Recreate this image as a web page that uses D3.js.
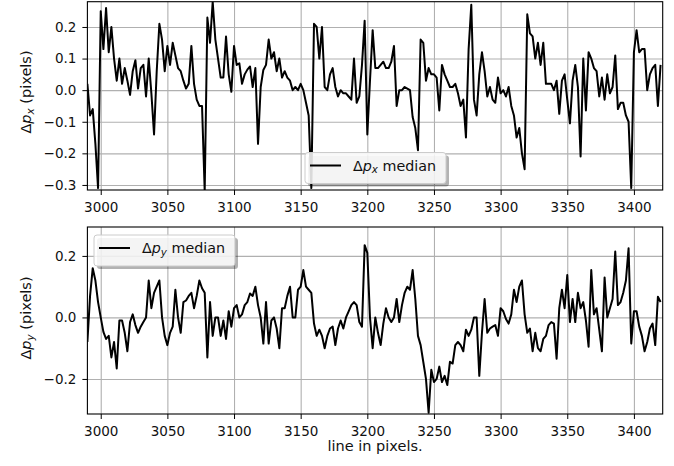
<!DOCTYPE html>
<html>
<head>
<meta charset="utf-8">
<script src="https://cdn.jsdelivr.net/npm/d3@7"></script>
<style>
  body { margin: 0; background: #fff; }
  svg { display: block; font-family: "DejaVu Sans", sans-serif; }
  .tick text { font-size: 13.5px; fill: #111; }
</style>
</head>
<body>
<div id="chart"></div>
<script>
// median offsets per detector line, every 2 lines from 2990
const lineStart = 2990;
const lineStep = 2;

const dpx = [
  0.02, -0.08, -0.06, -0.17, -0.31, 0.25, 0.13, 0.26, 0.12, 0.2,
  0.1, 0.03, 0.1, 0.02, 0.07, 0.03, -0.015, 0.06, 0.095, 0.005,
  0.07, 0.08, -0.02, 0.1, -0.01, -0.14, 0.06, 0.21, 0.16, 0.06,
  0.14, 0.08, 0.15, 0.11, 0.07, 0.06, 0.03, 0.005, 0.02, 0.14,
  0.02, -0.03, -0.05, -0.05, -0.32, 0.23, 0.15, 0.28, 0.16, 0.1,
  0.04, 0.04, 0.17, 0.05, -0.005, 0.14, 0.08, 0.085, 0.02, 0.05,
  0.065, 0.075, 0.01, 0.07, -0.17, 0.01, 0.064, 0.08, 0.16, 0.1,
  0.12, 0.06, 0.1, 0.04, 0.06, 0.04, 0.03, 0.0, 0.01, 0.0,
  0.02, 0.0, -0.04, -0.08, -0.31, 0.21, 0.2, 0.1, 0.2, 0.01,
  0.0, 0.05, 0.07, 0.01, -0.02, 0.0, -0.01, -0.01, -0.02, -0.03,
  0.1, -0.04, -0.02, 0.08, 0.22, -0.14, 0.03, 0.19, 0.07, 0.07,
  0.08, 0.09, 0.07, 0.07, 0.09, 0.14, -0.05, 0.0, 0.0, 0.01,
  0.005, 0.0, -0.085, -0.12, -0.19, 0.16, 0.15, 0.03, 0.07, 0.05,
  0.05, 0.04, -0.064, 0.08, 0.05, 0.03, 0.01, 0.01, 0.02, -0.01,
  -0.05, -0.03, -0.15, 0.13, 0.27, -0.03, -0.08, 0.05, 0.12, 0.06,
  -0.02, 0.01, -0.03, -0.04, 0.04, -0.01, 0.0, -0.02, 0.01, -0.05,
  -0.08, -0.15, -0.12, -0.2, -0.25, 0.24, 0.18, 0.17, 0.1, 0.15,
  0.08, 0.15, 0.02, 0.02, 0.02, 0.0, 0.03, -0.075, 0.03, 0.05,
  -0.03, -0.105, 0.03, 0.08, 0.01, -0.21, 0.1, -0.064, 0.12, 0.1,
  0.07, 0.06, -0.02, 0.04, -0.03, 0.05, -0.01, 0.01, 0.11, -0.06,
  -0.04, -0.04, -0.08, -0.1, -0.31, 0.12, 0.19, 0.12, 0.13, 0.13,
  0.0, 0.05, 0.07, 0.08, -0.05, 0.08
];

const dpy = [
  -0.08, 0.07, 0.16, 0.12, 0.05, 0.0, -0.047, -0.07, -0.06, -0.13,
  -0.08, -0.166, -0.01, -0.01, -0.05, -0.11, -0.015, 0.01, -0.025, -0.05,
  -0.03, -0.015, 0.0, 0.12, 0.03, 0.08, 0.1, 0.12, 0.0, -0.06,
  -0.09, -0.05, -0.03, 0.09, 0.0, -0.05, 0.05, 0.055, 0.07, 0.08,
  0.03, 0.07, 0.12, 0.095, 0.08, -0.13, 0.05, -0.06, 0.0, 0.0,
  -0.06, -0.01, -0.07, 0.02, -0.03, 0.03, 0.04, 0.0, 0.01, 0.04,
  0.05, 0.078, 0.07, 0.1, 0.04, 0.0, -0.085, 0.05, -0.085, -0.01,
  0.0, -0.036, -0.1, 0.03, 0.03, 0.07, 0.1, 0.0, 0.0, 0.09,
  0.1, 0.154, 0.1, 0.09, 0.08, -0.02, -0.06, -0.04, -0.06, -0.1,
  -0.06, -0.036, -0.03, -0.09, -0.036, -0.01, -0.036, 0.0, 0.02, 0.04,
  0.05, 0.04, -0.015, -0.03, 0.235, 0.21, 0.0, -0.1, 0.0, -0.05,
  -0.09, -0.02, 0.03, 0.0, -0.015, 0.0, 0.06, -0.015, 0.04, 0.08,
  0.1, 0.09, 0.154, 0.06, -0.06, -0.09, -0.145, -0.2, -0.31, -0.17,
  -0.21, -0.2, -0.16, -0.21, -0.19, -0.22, -0.144, -0.15, -0.09, -0.08,
  -0.09, -0.11, -0.04, -0.06, -0.04, 0.0, 0.0, -0.19, -0.05, 0.06,
  -0.05, -0.036, -0.03, -0.025, -0.06, 0.03, 0.02, -0.005, -0.02, 0.01,
  0.09, 0.05, 0.1, 0.12, 0.01, -0.05, -0.036, -0.11, -0.05, -0.1,
  -0.11, -0.07, -0.06, -0.025, -0.015, -0.02, -0.134, 0.03, 0.09, 0.03,
  0.138, -0.015, 0.06, -0.015, 0.08, 0.03, 0.05, -0.01, -0.095, 0.154,
  0.01, 0.03, -0.04, -0.11, 0.13, 0.0, 0.03, 0.06, 0.214, 0.04,
  0.05, 0.08, 0.12, 0.225, -0.085, 0.02, 0.02, -0.03, -0.06, -0.11,
  -0.08, -0.036, -0.02, -0.09, 0.067, 0.05
];

const xTicks = [3000, 3050, 3100, 3150, 3200, 3250, 3300, 3350, 3400];
const pxTicks = [-0.3, -0.2, -0.1, 0.0, 0.1, 0.2];
const pyTicks = [-0.2, 0.0, 0.2];

const W = 674, H = 466;
const left = 87.4, right = 662.7;

const lines = d3.range(dpx.length).map(i => lineStart + i * lineStep);

const svg = d3.select('#chart')
  .append('svg')
  .attr('width', W)
  .attr('height', H);

const xScale = d3.scaleLinear()
  .domain([2990, 3421.6])
  .range([left, right]);

const fmt = d3.format('.1f');

// writes "Δp_sub" with math-style italic p and subscript
const mathLabel = (sel, sub, rest) => {
  sel.append('tspan').text('Δ');
  sel.append('tspan').attr('font-style', 'italic').text('p');
  sel.append('tspan').attr('font-style', 'italic').attr('font-size', '0.72em')
    .attr('dy', '0.25em').text(sub);
  sel.append('tspan').attr('dy', '-0.18em').text(rest);
};

const drawPanel = (cfg) => {
  const g = svg.append('g');
  const yScale = d3.scaleLinear()
    .domain(cfg.domain)
    .range([cfg.bottom, cfg.top]);

  const clipId = 'clip-' + cfg.name;
  svg.append('clipPath').attr('id', clipId)
    .append('rect')
    .attr('x', left).attr('y', cfg.top)
    .attr('width', right - left).attr('height', cfg.bottom - cfg.top);

  // grid
  g.append('g')
    .attr('transform', `translate(0, ${cfg.bottom})`)
    .call(d3.axisBottom(xScale).tickValues(xTicks).tickSize(-(cfg.bottom - cfg.top)).tickFormat(''))
    .call(a => a.select('.domain').remove())
    .call(a => a.selectAll('line').attr('stroke', '#b0b0b0').attr('stroke-width', 1.1));
  g.append('g')
    .attr('transform', `translate(${left}, 0)`)
    .call(d3.axisLeft(yScale).tickValues(cfg.ticks).tickSize(-(right - left)).tickFormat(''))
    .call(a => a.select('.domain').remove())
    .call(a => a.selectAll('line').attr('stroke', '#b0b0b0').attr('stroke-width', 1.1));

  // the series
  const line = d3.line()
    .x((d, i) => xScale(lines[i]))
    .y(d => yScale(d));
  g.append('path')
    .datum(cfg.values)
    .attr('clip-path', `url(#${clipId})`)
    .attr('fill', 'none')
    .attr('stroke', '#000')
    .attr('stroke-width', 2)
    .attr('stroke-linejoin', 'round')
    .attr('d', line);

  // axes
  g.append('g')
    .attr('transform', `translate(0, ${cfg.bottom})`)
    .call(d3.axisBottom(xScale).tickValues(xTicks).tickSize(5).tickPadding(7).tickFormat(d3.format('d')))
    .call(a => a.select('.domain').remove())
    .call(a => a.selectAll('text').attr('font-family', '"DejaVu Sans", sans-serif'));
  g.append('g')
    .attr('transform', `translate(${left}, 0)`)
    .call(d3.axisLeft(yScale).tickValues(cfg.ticks).tickSize(5).tickPadding(6).tickFormat(fmt))
    .call(a => a.select('.domain').remove())
    .call(a => a.selectAll('text').attr('font-family', '"DejaVu Sans", sans-serif'));

  g.append('rect')
    .attr('x', left).attr('y', cfg.top)
    .attr('width', right - left).attr('height', cfg.bottom - cfg.top)
    .attr('fill', 'none').attr('stroke', '#000').attr('stroke-width', 1.1);

  // y label
  const yl = g.append('text')
    .attr('transform', `translate(31, ${cfg.labelY}) rotate(-90)`)
    .attr('text-anchor', 'middle')
    .attr('font-size', 14.5)
    .attr('fill', '#111');
  mathLabel(yl, cfg.sub, ' (pixels)');

  // legend
  const lg = g.append('g').attr('transform', `translate(${cfg.legend[0]}, ${cfg.legend[1]})`);
  lg.append('rect')
    .attr('x', 3).attr('y', 3).attr('width', 141).attr('height', 31).attr('rx', 3)
    .attr('fill', '#000').attr('opacity', 0.3);
  lg.append('rect')
    .attr('width', 141).attr('height', 31).attr('rx', 3)
    .attr('fill', '#fff').attr('fill-opacity', 0.85)
    .attr('stroke', '#ccc');
  lg.append('line')
    .attr('x1', 5).attr('x2', 36).attr('y1', 13).attr('y2', 13)
    .attr('stroke', '#000').attr('stroke-width', 2);
  const lt = lg.append('text')
    .attr('x', 48).attr('y', 18)
    .attr('font-size', 14.3)
    .attr('fill', '#111');
  mathLabel(lt, cfg.sub, ' median');
};

drawPanel({name: 'px', values: dpx, domain: [-0.316, 0.28], top: 1.7, bottom: 190,
  ticks: pxTicks, sub: 'x', legend: [305, 152.5], labelY: 92});
drawPanel({name: 'py', values: dpy, domain: [-0.314, 0.294], top: 227, bottom: 414,
  ticks: pyTicks, sub: 'y', legend: [94, 235], labelY: 318});

svg.append('text')
  .attr('x', (left + right) / 2)
  .attr('y', 451)
  .attr('text-anchor', 'middle')
  .attr('font-size', 14.5)
  .attr('fill', '#111')
  .text('line in pixels.');
</script>
</body>
</html>
